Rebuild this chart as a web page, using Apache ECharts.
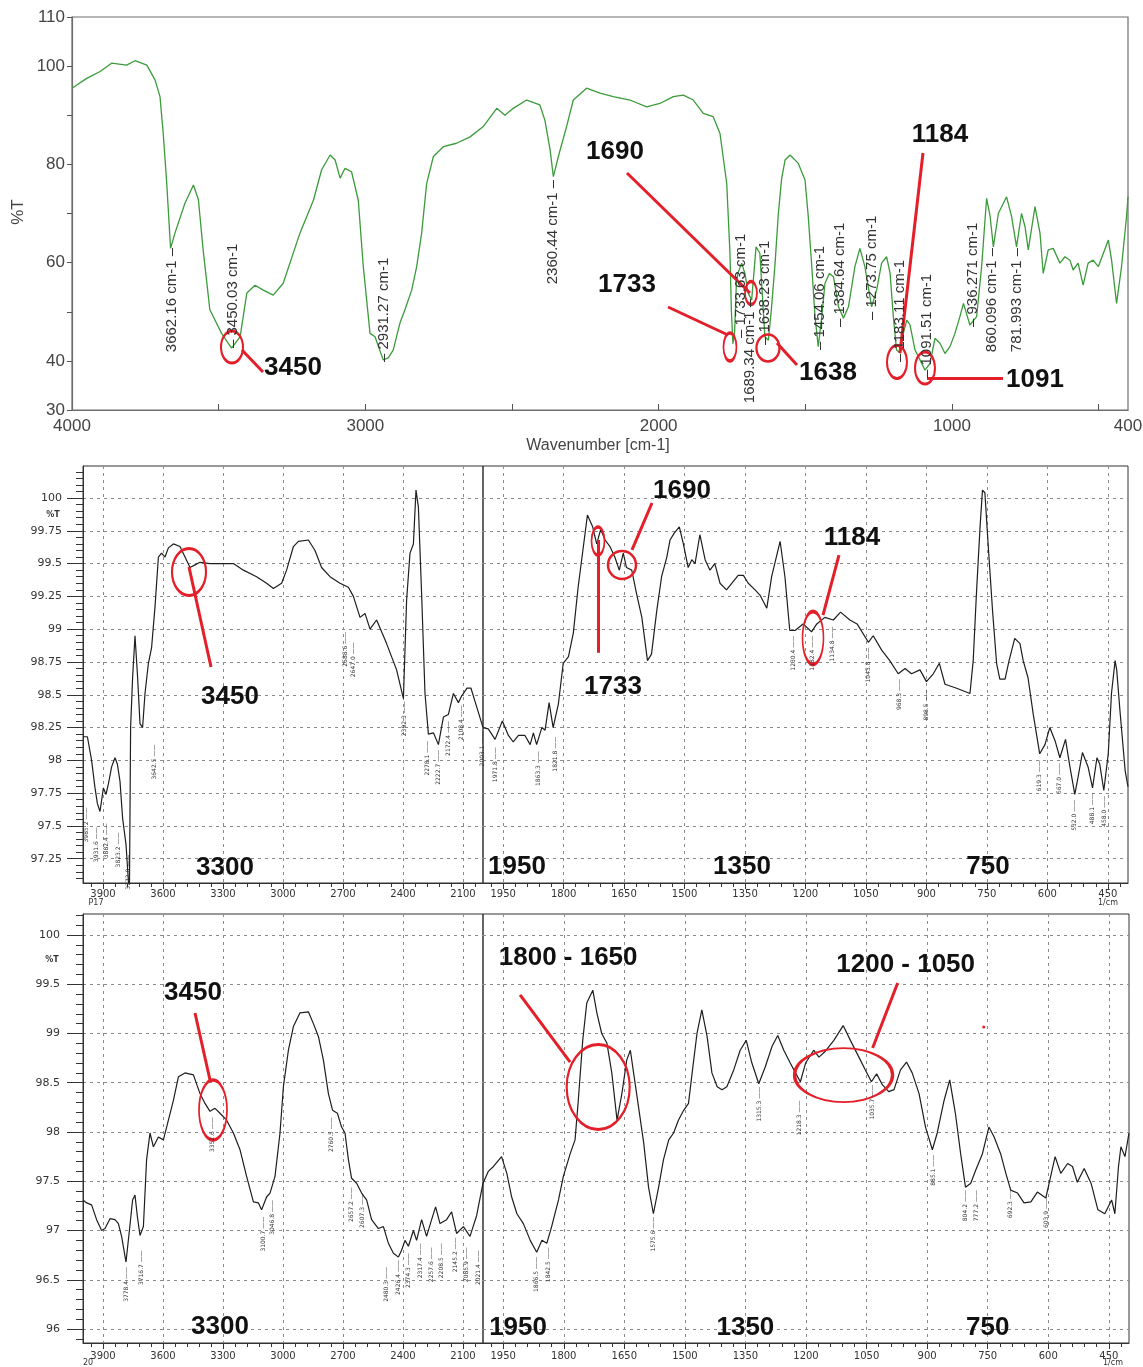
<!DOCTYPE html>
<html>
<head>
<meta charset="utf-8">
<script src="https://cdn.jsdelivr.net/npm/echarts@6.0.0/dist/echarts.min.js"></script>
<style>
  html, body { margin: 0; padding: 0; background: #fff; }
  #chart { width: 1143px; height: 1367px; }
</style>
</head>
<body>
<div id="chart"></div>
<script>
// ---- spectrum 1 (green, top) ----
const topWn = [4000,3950,3904,3865,3814,3785,3745,3717,3700,3689,
  3677,3664,3649,3615,3586,3569,3553,3530,3490,3456,
  3427,3404,3376,3348,3314,3280,3223,3177,3149,3120,
  3103,3086,3069,3047,3024,3007,2984,2967,2939,2922,
  2905,2882,2865,2842,2825,2808,2791,2768,2734,2689,
  2643,2598,2552,2524,2496,2450,2405,2388,2370,2359,
  2342,2314,2291,2246,2200,2155,2098,2041,1996,1950,
  1916,1882,1848,1814,1791,1768,1757,1752,1747,1741,
  1735,1729,1717,1706,1695,1683,1668,1655,1638,1626,
  1615,1603,1592,1581,1569,1552,1524,1501,1490,1478,
  1467,1456,1444,1433,1418,1404,1387,1370,1353,1331,
  1314,1297,1274,1257,1240,1223,1211,1200,1189,1177,
  1166,1154,1143,1126,1109,1092,1075,1058,1041,1024,
  1007,990,973,961,939,916,899,882,870,859,
  842,814,797,780,763,751,740,717,700,689,
  672,655,632,615,598,587,570,553,536,519,
  501,484,467,456,439,422,405,400];
const topT = [95.5,97.5,98.9,100.6,100.2,101.1,100.2,97.2,93.8,86.3,
  76.1,62.9,66,72.1,75.8,72.8,62.6,50.4,45.6,42.6,
  44.9,53.8,55.4,54.4,53.4,55.8,66,72.7,78.9,81.9,
  80.9,77.2,79.2,78.5,72.7,59.2,45.6,44.9,40.2,40.6,
  42.2,47.7,50.4,54.4,59.2,66,76.1,81.6,83.6,84.3,
  85.6,87.7,91.4,90.0,91.4,93.1,92.1,89.0,82.9,77.5,
  81.6,87.7,93.1,95.5,94.5,93.8,93.1,91.7,92.4,93.8,
  94.1,93.1,90.4,89.7,86.3,76.1,62,50,43.5,46,
  56,58,59.9,57.8,53.8,52.4,63.2,61.9,44.9,44.2,
  51,60,70,77,80.9,81.9,80.2,76.8,69.4,59.2,
  49,42.9,49,55.8,57.8,57.1,51,48.7,51,59.2,
  62.9,59.2,51,54.4,59.9,61.2,57.8,49,42.2,41.6,
  45.6,48.3,47.3,42.2,40.2,38.1,39.5,44.6,43.6,41.5,
  42.9,45.6,49,51.7,47.3,49,59.2,73.1,69.4,63.2,
  70,73.4,69.4,63.2,70,67.3,62.6,71.4,66,57.8,
  62.6,62.9,59.9,61.2,60.5,58.5,59.9,55.4,59.9,60.5,
  59.2,61.9,64.6,60.5,51.7,59.2,69.4,73.4];

// ---- spectrum 2 (middle) ----
const midWn = [4000,3978,3957,3940,3928,3915,3898,3885,3873,3857,
  3840,3828,3815,3802,3785,3773,3768,3762,3752,3740,
  3728,3715,3702,3690,3673,3657,3640,3623,3607,3590,
  3573,3548,3515,3490,3465,3440,3415,3365,3298,3248,
  3198,3132,3082,3048,3007,2982,2948,2923,2873,2840,
  2807,2765,2715,2673,2648,2615,2590,2565,2532,2482,
  2432,2398,2382,2365,2348,2335,2323,2307,2290,2273,
  2248,2223,2198,2173,2148,2123,2107,2080,2060,2040,
  2020,2000,1987,1970,1952,1937,1925,1912,1896,1883,
  1875,1867,1854,1846,1836,1826,1813,1801,1788,1776,
  1764,1751,1741,1728,1718,1708,1697,1685,1673,1662,
  1652,1644,1631,1619,1606,1592,1582,1569,1557,1544,
  1536,1526,1513,1503,1491,1482,1474,1462,1449,1437,
  1425,1412,1396,1383,1367,1354,1342,1325,1313,1296,
  1284,1263,1251,1239,1226,1206,1185,1172,1152,1131,
  1113,1090,1072,1044,1032,1011,991,970,953,937,
  916,900,883,868,854,825,792,784,776,767,
  761,755,747,736,726,718,705,695,681,668,
  660,648,635,619,606,594,581,569,555,544,
  532,524,513,499,488,477,470,460,449,441,
  432,428,420,407,400];
const midT = [98.18,98.18,98.0,97.79,97.67,97.61,97.79,97.74,97.82,97.95,
  98.02,97.97,97.84,97.56,97.36,97.08,96.95,98.25,98.63,98.95,
  98.66,98.28,98.25,98.51,98.74,98.86,99.17,99.55,99.58,99.55,
  99.62,99.65,99.63,99.55,99.47,99.49,99.51,99.5,99.5,99.5,
  99.45,99.4,99.35,99.31,99.35,99.45,99.63,99.67,99.68,99.6,
  99.47,99.4,99.35,99.32,99.25,99.09,99.12,99.0,99.07,98.89,
  98.69,98.47,99.22,99.58,99.65,100.06,99.93,99.27,98.51,98.2,
  98.21,98.12,98.33,98.35,98.51,98.44,98.49,98.55,98.55,98.45,
  98.35,98.25,98.24,98.16,98.3,98.19,98.14,98.19,98.19,98.12,
  98.21,98.12,98.25,98.23,98.44,98.25,98.43,98.74,98.79,98.97,
  99.32,99.63,99.87,99.78,99.65,99.76,99.68,99.63,99.55,99.45,
  99.58,99.47,99.45,99.27,99.09,98.76,98.81,99.14,99.4,99.55,
  99.68,99.73,99.78,99.65,99.47,99.53,99.5,99.72,99.53,99.45,
  99.5,99.35,99.3,99.35,99.41,99.41,99.35,99.3,99.26,99.16,
  99.4,99.67,99.4,98.99,98.99,99.04,98.98,99.04,99.09,99.07,
  99.13,99.07,99.04,98.9,98.95,98.84,98.76,98.66,98.7,98.66,
  98.69,98.6,98.66,98.74,98.58,98.55,98.51,98.76,99.27,99.78,
  100.06,100.04,99.65,99.14,98.74,98.62,98.62,98.76,98.93,98.89,
  98.76,98.63,98.35,98.05,98.12,98.25,98.15,98.02,98.16,97.95,
  97.74,97.87,98.06,97.95,97.79,98.02,97.97,97.77,98.05,98.51,
  98.76,98.69,98.38,97.92,97.8];

// ---- spectrum 3 (bottom) ----
const botWn = [4000,3982,3957,3932,3907,3890,3865,3840,3823,3807,
  3785,3768,3752,3740,3728,3715,3698,3682,3665,3648,
  3623,3598,3573,3548,3523,3490,3448,3415,3390,3365,
  3340,3315,3282,3248,3215,3182,3148,3123,3107,3082,
  3065,3040,3015,2998,2973,2948,2915,2873,2848,2823,
  2798,2773,2752,2728,2707,2690,2673,2657,2632,2607,
  2582,2557,2523,2498,2473,2448,2423,2407,2390,2373,
  2348,2332,2307,2282,2257,2237,2215,2182,2157,2132,
  2098,2065,2032,2000,1987,1974,1954,1941,1929,1916,
  1900,1883,1867,1854,1842,1830,1813,1801,1784,1772,
  1764,1753,1743,1728,1718,1706,1693,1681,1668,1656,
  1644,1635,1627,1615,1602,1590,1578,1565,1553,1540,
  1528,1516,1503,1491,1482,1470,1458,1445,1433,1420,
  1408,1396,1379,1363,1348,1334,1317,1301,1284,1270,
  1255,1239,1226,1214,1201,1181,1168,1152,1131,1108,
  1090,1069,1053,1038,1025,1011,995,982,966,951,
  937,920,904,887,875,858,844,830,817,805,
  792,780,763,747,734,718,705,693,676,660,
  643,627,606,594,583,569,552,540,528,511,
  494,477,460,443,435,426,420,410,400];
const botT = [97.31,97.28,97.26,97.11,97.0,97.02,97.12,97.11,97.07,96.94,
  96.68,97.0,97.31,97.36,97.14,96.95,97.04,97.72,97.99,97.85,
  97.95,97.92,98.12,98.32,98.56,98.6,98.58,98.39,98.29,98.21,
  98.24,98.19,98.12,97.99,97.82,97.55,97.29,97.28,97.21,97.34,
  97.38,97.55,97.99,98.46,98.83,99.07,99.21,99.22,99.1,98.97,
  98.73,98.39,98.22,98.19,98.05,97.99,97.72,97.53,97.48,97.38,
  97.31,97.11,97.02,97.04,96.87,96.77,96.73,96.8,96.9,96.84,
  97.0,96.9,97.11,96.94,97.11,97.24,97.07,97.11,97.19,96.97,
  97.04,96.94,97.15,97.48,97.6,97.65,97.75,97.58,97.34,97.17,
  97.07,96.9,96.78,96.9,96.87,97.04,97.31,97.55,97.78,97.92,
  98.32,98.93,99.31,99.44,99.21,99.0,98.9,98.6,98.12,98.39,
  98.73,98.83,98.6,98.26,97.89,97.44,97.17,97.44,97.72,97.92,
  97.99,98.12,98.22,98.29,98.6,99.0,99.24,98.97,98.6,98.46,
  98.43,98.46,98.63,98.83,98.93,98.7,98.49,98.66,98.87,98.98,
  98.83,98.7,98.6,98.51,98.7,98.83,98.76,98.82,98.93,99.08,
  98.93,98.76,98.63,98.51,98.59,98.48,98.41,98.43,98.63,98.71,
  98.6,98.39,98.05,97.82,97.99,98.32,98.53,98.19,97.78,97.44,
  97.48,97.61,97.78,98.05,97.95,97.78,97.58,97.41,97.38,97.28,
  97.29,97.39,97.33,97.55,97.75,97.58,97.68,97.65,97.49,97.63,
  97.48,97.21,97.17,97.31,97.17,97.65,97.85,97.75,97.99];

// ---- tick labels ----
const topXLabels = [4000, 3000, 2000, 1000, 400];
const topXTicks = [3500, 3000, 2500, 2000, 1500, 1000, 500];
const leftTicks = [3900, 3600, 3300, 3000, 2700, 2400, 2100];
const rightTicks = [1950, 1800, 1650, 1500, 1350, 1200, 1050, 900, 750, 600, 450];
const midYTicks = [97.25, 97.5, 97.75, 98, 98.25, 98.5, 98.75, 99, 99.25, 99.5, 99.75, 100];
const botYTicks = [96, 96.5, 97, 97.5, 98, 98.5, 99, 99.5, 100];

// peak labels of the green spectrum: [text, wavenumber, %T, hanging below]
const topPeaks = [
  ['3662.16 cm-1', 3659, 62.98, true],
  ['3450.03 cm-1', 3451, 42.62, false],
  ['2931.27 cm-1', 2936, 39.77, false],
  ['2360.44 cm-1', 2360, 76.82, true],
  ['1733.63 cm-1', 1719, 44.66, false],
  ['1689.34 cm-1', 1688.6, 52.6, true],
  ['1638.23 cm-1', 1637.5, 43.23, false],
  ['1454.06 cm-1', 1450, 42.21, false],
  ['1384.64 cm-1', 1381.8, 46.9, false],
  ['1273.75 cm-1', 1272.7, 48.32, false],
  ['1183.11 cm-1', 1177.3, 39.77, false],
  ['1091.51 cm-1', 1085.2, 36.51, false],
  ['936.271 cm-1', 928.4, 46.9, false],
  ['860.096 cm-1', 863.6, 62.98, true],
  ['781.993 cm-1', 778.4, 62.98, true]
];

// small peak marks: [wavenumber, %T, text]
const midPeaksL = [[3985, 97.64, '3985.2'], [3932, 97.49, '3931.6'], [3882, 97.52, '3882.4'],
  [3824, 97.45, '3823.2'], [3774, 97.28, '3772.8'], [3642, 98.12, '3642.5'], [2688, 98.98, '2688.6'],
  [2646, 98.9, '2647.0'], [2392, 98.45, '2392.3'], [2278, 98.15, '2278.1'], [2222, 98.08, '2222.7'],
  [2172, 98.3, '2172.4'], [2110, 98.42, '2108.4'], [2003, 98.22, '2003.1']];
const midPeaksR = [[1970, 98.1, '1971.8'], [1863, 98.07, '1863.3'], [1821, 98.18, '1821.8'],
  [1230, 98.95, '1230.4'], [1182, 98.95, '1182.4'], [1133, 99.02, '1134.8'], [1044, 98.86, '1043.8'],
  [968, 98.62, '968.3'], [900, 98.54, '898.5'], [619, 98.0, '619.3'], [569, 97.98, '567.0'],
  [532, 97.7, '532.0'], [488, 97.75, '488.1'], [458, 97.73, '458.0']];
const botPeaksL = [[3785, 96.63, '3778.4'], [3707, 96.8, '3716.7'], [3352, 98.15, '3352.6'],
  [3100, 97.14, '3100.7'], [3052, 97.31, '3046.8'], [2757, 98.15, '2760.5'], [2657, 97.44, '2657.2'],
  [2602, 97.38, '2607.3'], [2482, 96.63, '2480.3'], [2423, 96.7, '2426.4'], [2373, 96.77, '2374.3'],
  [2315, 96.87, '2317.4'], [2257, 96.83, '2257.6'], [2207, 96.87, '2208.5'], [2140, 96.93, '2145.2'],
  [2085, 96.83, '2085.9'], [2025, 96.8, '2021.4']];
const botPeaksR = [[1867, 96.73, '1866.5'], [1838, 96.83, '1842.5'], [1578, 97.14, '1575.6'],
  [1315, 98.46, '1315.3'], [1216, 98.32, '1218.3'], [1036, 98.48, '1035.7'], [885, 97.77, '885.1'],
  [805, 97.41, '804.2'], [777, 97.41, '777.2'], [693, 97.44, '692.3'], [604, 97.34, '603.9']];

const RED = '#e3202a';
const SANS = 'Liberation Sans, Arial, sans-serif';
const DJV = 'DejaVu Sans, sans-serif';
const ELLIPSE = 'path://M50,0C77.6,0,100,22.4,100,50C100,77.6,77.6,100,50,100C22.4,100,0,77.6,0,50C0,22.4,22.4,0,50,0Z';

const MID_MIN = 97.065, MID_MAX = 100.244;
const BOT_MIN = 95.858, BOT_MAX = 100.213;

function pairs(wn, t, lo, hi) {
  let out = [];
  for (let i = 0; i < wn.length; i++) {
    if (wn[i] >= lo && wn[i] <= hi) out.push([wn[i], t[i]]);
  }
  return out;
}

function steps(a, b, s) {
  let out = [];
  for (let v = a; v <= b + 1e-9; v += s) out.push(Math.round(v * 1000) / 1000);
  return out;
}

function bigText(text, wn, t) {
  return {
    coord: [wn, t], name: text, symbol: 'circle', symbolSize: 1,
    itemStyle: { color: 'rgba(0,0,0,0)' },
    label: { show: true, position: 'inside', formatter: '{b}', fontSize: 26, fontWeight: 'bold',
      color: '#111', fontFamily: SANS, align: 'center', verticalAlign: 'middle' }
  };
}

function ring(wn, t, w, h) {
  return {
    coord: [wn, t], symbol: ELLIPSE, symbolSize: [w, h],
    itemStyle: { color: 'rgba(0,0,0,0)', borderColor: RED, borderWidth: 2.5 },
    label: { show: false }
  };
}

// rotated text that hangs below (or rises above) its anchor, with the tick dash at the anchor
function vText(text, wn, t, hanging, size, font, dash) {
  return {
    coord: [wn, t], name: hanging ? text + ' ' + dash : dash + ' ' + text,
    symbol: 'circle', symbolSize: 1, itemStyle: { color: 'rgba(0,0,0,0)' },
    label: { show: true, position: 'inside', formatter: '{b}', rotate: 90,
      align: hanging ? 'right' : 'left', verticalAlign: 'middle',
      fontSize: size, color: '#333', fontFamily: font }
  };
}
function peakLabel(p) { return vText(p[0], p[1], p[2], p[3], 15, SANS, '–'); }
function tickLabel(p) { return vText(p[2], p[0], p[1], true, 6, DJV, '——'); }

function redLines(list) {
  return {
    silent: true, animation: false, symbol: ['none', 'none'],
    label: { show: false },
    lineStyle: { color: RED, width: 3, type: 'solid' },
    emphasis: { disabled: true },
    data: list.map(l => [{ coord: l[0] }, { coord: l[1] }])
  };
}

function marks(list) {
  return { silent: true, animation: false, data: list };
}

function spectrumSeries(data, xi, color, width) {
  return {
    type: 'line', data: data, xAxisIndex: xi, yAxisIndex: xi,
    symbol: 'none', showSymbol: false, smooth: false, silent: true,
    lineStyle: { color: color, width: width }, z: 3
  };
}

const plain = v => String(v);

// ---- axes ----
function panelX(gi, min, max, ticks, margin) {
  return {
    type: 'value', gridIndex: gi, min: min, max: max, inverse: true, position: 'bottom',
    axisLine: { show: true, onZero: false, lineStyle: { color: '#333', width: 1 } },
    axisTick: { show: true, inside: false, length: 6, customValues: ticks, lineStyle: { color: '#333' } },
    axisLabel: { show: true, customValues: ticks, margin: margin, fontSize: 10, color: '#333',
      fontFamily: DJV, formatter: plain },
    splitLine: { show: true, lineStyle: { color: '#8a8a8a', type: [3, 4], width: 1 } }
  };
}
function minorX(gi, min, max, ticks) {
  return {
    type: 'value', gridIndex: gi, min: min, max: max, inverse: true, position: 'bottom',
    axisLine: { show: false, onZero: false },
    axisTick: { show: true, inside: false, length: 4, customValues: ticks, lineStyle: { color: '#333' } },
    axisLabel: { show: false }, splitLine: { show: false }
  };
}
function panelY(gi, min, max, ticks, margin, showAxis) {
  return {
    type: 'value', gridIndex: gi, min: min, max: max, position: 'left',
    axisLine: { show: showAxis, onZero: false, lineStyle: { color: '#333', width: 1 } },
    axisTick: { show: showAxis, inside: false, length: 16, customValues: ticks, lineStyle: { color: '#333' } },
    axisLabel: { show: showAxis, customValues: ticks, margin: margin, fontSize: 11, color: '#333',
      fontFamily: DJV, formatter: plain },
    splitLine: { show: true, lineStyle: { color: '#8a8a8a', type: [3, 4], width: 1 } }
  };
}
function minorY(gi, min, max, ticks) {
  return {
    type: 'value', gridIndex: gi, min: min, max: max, position: 'left',
    axisLine: { show: false, onZero: false },
    axisTick: { show: true, inside: false, length: 7, customValues: ticks, lineStyle: { color: '#333' } },
    axisLabel: { show: false }, splitLine: { show: false }
  };
}

const xAxes = [
  {
    type: 'value', gridIndex: 0, min: 400, max: 4000, inverse: true,
    axisLine: { show: true, onZero: false, lineStyle: { color: '#6e6e6e', width: 1.2 } },
    axisTick: { show: true, inside: true, length: 6, customValues: topXTicks, lineStyle: { color: '#555' } },
    axisLabel: { customValues: topXLabels, margin: 8, fontSize: 17, color: '#444', fontFamily: SANS, formatter: plain },
    splitLine: { show: false }
  },
  panelX(1, 2000, 4000, leftTicks, 6),
  panelX(2, 400, 2000, rightTicks, 6),
  panelX(3, 2000, 4000, leftTicks, 8),
  panelX(4, 400, 2000, rightTicks, 8),
  minorX(1, 2000, 4000, steps(2040, 3960, 60)),
  minorX(2, 400, 2000, steps(420, 1980, 30)),
  minorX(3, 2000, 4000, steps(2040, 3960, 60)),
  minorX(4, 400, 2000, steps(420, 1980, 30))
];

const yAxes = [
  {
    type: 'value', gridIndex: 0, min: 30, max: 110, interval: 10,
    axisLine: { show: true, onZero: false, lineStyle: { color: '#6e6e6e', width: 1.2 } },
    axisTick: { show: true, inside: false, length: 5, lineStyle: { color: '#555' } },
    axisLabel: { margin: 7, fontSize: 17, color: '#444', fontFamily: SANS,
      formatter: v => (v === 90 || v === 70 || v === 50) ? '' : String(v) },
    splitLine: { show: false }
  },
  panelY(1, MID_MIN, MID_MAX, midYTicks, 21, true),
  panelY(2, MID_MIN, MID_MAX, midYTicks, 21, false),
  panelY(3, BOT_MIN, BOT_MAX, botYTicks, 23, true),
  panelY(4, BOT_MIN, BOT_MAX, botYTicks, 23, false),
  minorY(1, MID_MIN, MID_MAX, steps(97.1, 100.2, 0.05)),
  minorY(3, BOT_MIN, BOT_MAX, steps(95.9, 100.2, 0.1))
];

const frame = { show: true, borderColor: '#333', borderWidth: 1, backgroundColor: 'rgba(0,0,0,0)', outerBoundsMode: 'none' };
const grids = [
  Object.assign({}, frame, { left: 72, top: 17, width: 1056, height: 393, borderColor: '#6e6e6e', borderWidth: 1.2 }),
  Object.assign({}, frame, { left: 83, top: 466, width: 400, height: 417 }),
  Object.assign({}, frame, { left: 483, top: 466, width: 645, height: 417 }),
  Object.assign({}, frame, { left: 83, top: 914, width: 400, height: 429 }),
  Object.assign({}, frame, { left: 483, top: 914, width: 646, height: 429 })
];

// ---- series with annotations ----
const sTop = spectrumSeries(pairs(topWn, topT, 400, 4000), 0, '#3b9b3b', 1.3);
sTop.markPoint = marks([].concat(
  topPeaks.map(peakLabel),
  [ring(3454.6, 42.82, 22, 32), ring(1685.3, 53.82, 12, 23), ring(1756.9, 42.82, 13, 28),
   ring(1627.4, 42.62, 23, 27), ring(1187.6, 39.77, 20, 33), ring(1092.1, 38.55, 20, 32)],
  [bigText('3450', 3246.6, 38.55), bigText('1690', 2148.9, 82.52), bigText('1733', 2108, 55.45),
   bigText('1638', 1422.8, 37.53), bigText('1184', 1041, 85.98), bigText('1091', 717.1, 36.11)]
));
sTop.markLine = redLines([
  [[3420.5, 42.21], [3348.9, 37.73]],
  [[2108, 78.24], [1688.7, 53.82]],
  [[1968.2, 50.97], [1763.7, 45.27]],
  [[1596.7, 43.64], [1528.5, 39.16]],
  [[1098.9, 82.32], [1177.3, 41.6]],
  [[1085.3, 36.51], [826.2, 36.51]]
]);

const sMidL = spectrumSeries(pairs(midWn, midT, 2000, 4000), 1, '#1e1e1e', 1.2);
sMidL.markPoint = marks([].concat(
  midPeaksL.map(tickLabel),
  [ring(3470, 99.436, 34, 47), bigText('3450', 3265, 98.483), bigText('3300', 3290, 97.18)]
));
sMidL.markLine = redLines([[[3470, 99.474], [3360, 98.712]]]);

const sMidR = spectrumSeries(pairs(midWn, midT, 400, 2000), 2, '#1e1e1e', 1.2);
sMidR.markPoint = marks([].concat(
  midPeaksR.map(tickLabel),
  [ring(1714.7, 99.672, 13, 28), ring(1655.2, 99.489, 28, 28), ring(1181.4, 98.933, 21, 53),
   bigText('1733', 1677.5, 98.559), bigText('1690', 1506.4, 100.053), bigText('1184', 1084.7, 99.695),
   bigText('1950', 1915.7, 97.187), bigText('1350', 1357.5, 97.187), bigText('750', 747.3, 97.187)]
));
sMidR.markLine = redLines([
  [[1714.7, 99.68], [1714.7, 98.82]],
  [[1580.8, 99.962], [1630.4, 99.604]],
  [[1116.9, 99.565], [1156.6, 99.108]]
]);

const sBotL = spectrumSeries(pairs(botWn, botT, 2000, 4000), 3, '#1e1e1e', 1.2);
sBotL.markPoint = marks([].concat(
  botPeaksL.map(tickLabel),
  [ring(3350, 98.223, 28, 60), bigText('3450', 3450, 99.411), bigText('3300', 3315, 96.02)]
));
sBotL.markLine = redLines([[[3440, 99.208], [3365, 98.528]]]);

const sBotR = spectrumSeries(pairs(botWn, botT, 400, 2000), 4, '#1e1e1e', 1.2);
sBotR.markPoint = marks([].concat(
  botPeaksR.map(tickLabel),
  [ring(1714.7, 98.457, 63, 85), ring(1107, 98.578, 98, 54),
   { coord: [759.7, 99.066], symbol: 'circle', symbolSize: 3, itemStyle: { color: RED }, label: { show: false } },
   bigText('1800 - 1650', 1789.1, 99.766), bigText('1200 - 1050', 953.2, 99.695),
   bigText('1950', 1913.2, 96.01), bigText('1350', 1350.1, 96.01), bigText('750', 749.8, 96.01)]
));
sBotR.markLine = redLines([
  [[1908.2, 99.391], [1784.2, 98.71]],
  [[973, 99.512], [1035, 98.853]]
]);

// ---- static texts ----
function txt(x, y, text, size, opts) {
  return {
    type: 'text', x: x, y: y, silent: true, rotation: (opts && opts.rot) || 0,
    style: { text: text, fontSize: size, fill: (opts && opts.fill) || '#333',
      fontFamily: (opts && opts.font) || DJV, fontWeight: (opts && opts.weight) || 'normal',
      align: 'center', verticalAlign: 'middle' }
  };
}

const graphics = [
  txt(18, 212, '%T', 17, { rot: Math.PI / 2, fill: '#444', font: SANS }),
  txt(598, 446, 'Wavenumber [cm-1]', 16, { fill: '#444', font: SANS }),
  txt(53, 515, '%T', 8, { weight: 'bold' }),
  txt(52, 960, '%T', 8, { weight: 'bold' }),
  txt(96, 903, 'P17', 8),
  txt(88, 1363, '20', 8),
  txt(1108, 903, '1/cm', 8),
  txt(1113, 1363, '1/cm', 8)
];

const chart = echarts.init(document.getElementById('chart'), null, { renderer: 'canvas' });
chart.setOption({
  animation: false,
  backgroundColor: '#fff',
  grid: grids,
  xAxis: xAxes,
  yAxis: yAxes,
  series: [sTop, sMidL, sMidR, sBotL, sBotR],
  graphic: graphics
});
</script>
</body>
</html>
